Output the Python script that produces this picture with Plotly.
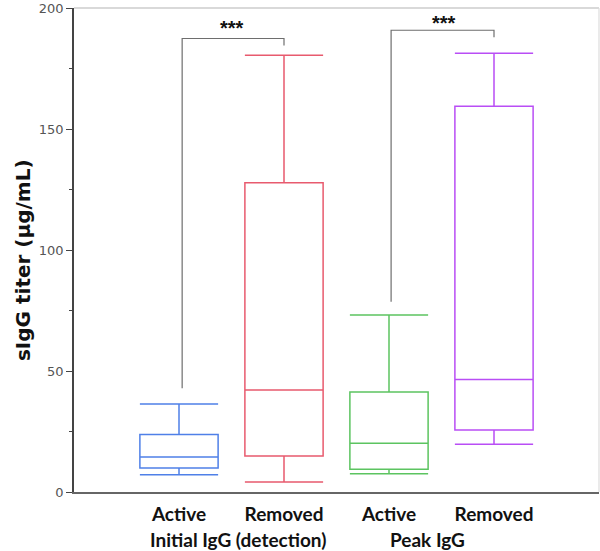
import plotly.graph_objects as go

# ---- data ----
groups = ["Active", "Removed", "Active", "Removed"]
positions = [0, 1, 2, 3]
lower_whisker = [7.1, 4.1, 7.5, 19.7]
q1 = [9.9, 14.9, 9.4, 25.6]
median = [14.5, 42.2, 20.1, 46.5]
q3 = [23.8, 127.8, 41.3, 159.4]
upper_whisker = [36.4, 180.5, 73.1, 181.3]
colors = ["#4f80e8", "#e85a6e", "#5cc460", "#b94ef5"]

group_labels = ["Initial IgG (detection)", "Peak IgG"]
group_label_x = [0.56, 2.37]

# significance brackets: (left x, right x, left bottom y, top y, right bottom y)
brackets = [
    (0.03, 1.0, 42.9, 187.4, 184.5),
    (2.02, 3.0, 78.6, 190.8, 187.9),
]
star_x = [0.5, 2.52]
star_y = [191.8, 193.6]

fig = go.Figure()

for i in range(len(groups)):
    fig.add_trace(go.Box(
        x=[positions[i]],
        q1=[q1[i]], median=[median[i]], q3=[q3[i]],
        lowerfence=[lower_whisker[i]], upperfence=[upper_whisker[i]],
        width=0.745, whiskerwidth=1,
        line=dict(color=colors[i], width=1.5),
        fillcolor="rgba(0,0,0,0)",
        boxpoints=False, showlegend=False, hoverinfo="skip",
    ))

for (lx, rx, ly, ty, ry), sx, sy in zip(brackets, star_x, star_y):
    fig.add_trace(go.Scatter(
        x=[lx, lx, rx, rx], y=[ly, ty, ty, ry], mode="lines",
        line=dict(color="#6e6e6e", width=1.2), showlegend=False, hoverinfo="skip",
    ))
    fig.add_annotation(x=sx, y=sy, text="<b>***</b>", showarrow=False,
                       font=dict(family="Liberation Sans", size=20, color="#111111"),
                       xref="x", yref="y")

for lab, gx in zip(group_labels, group_label_x):
    fig.add_annotation(x=gx, y=-0.098, xref="x", yref="paper", text="<b>%s</b>" % lab,
                       showarrow=False, yanchor="middle",
                       font=dict(family="Lato", size=19, color="#111111"))

fig.add_annotation(x=-0.125, y=0.48, xref="paper", yref="paper",
                   text="<b>sIgG titer (μg/mL)</b>", textangle=-90, showarrow=False,
                   font=dict(family="DejaVu Sans", size=20, color="#111111"))

# frame: top and right light borders
fig.add_shape(type="line", xref="paper", yref="paper", x0=0, x1=1, y0=1, y1=1,
              line=dict(color="#cccccc", width=1.5))
fig.add_shape(type="line", xref="paper", yref="paper", x0=1, x1=1, y0=0, y1=1,
              line=dict(color="#dddddd", width=1.2))

fig.update_layout(
    width=600, height=551,
    margin=dict(l=74, r=1, t=5, b=59),
    paper_bgcolor="white", plot_bgcolor="white",
    xaxis=dict(range=[-1, 4], tickmode="array", tickvals=positions,
               ticktext=["<b>%s</b>" % g for g in groups],
               tickfont=dict(family="Lato", size=19, color="#111111"),
               showgrid=False, zeroline=False, showline=True,
               linecolor="#666666", linewidth=1.5, ticks="", ticklen=0,
               ticklabelstandoff=4),
    yaxis=dict(range=[0, 200], tickmode="array", tickvals=[0, 50, 100, 150, 200],
               tickfont=dict(family="DejaVu Sans", size=13, color="#555555"),
               ticklabeloverflow="allow",
               showgrid=False, zeroline=False, showline=True,
               linecolor="#444444", linewidth=1.5, ticks="outside", ticklen=6,
               tickcolor="#444444", tickwidth=1.2,
               minor=dict(tickvals=[25, 75, 125, 175], ticks="outside", ticklen=3,
                          tickcolor="#444444", tickwidth=1)),
)

fig.write_html("out.html", config={"displayModeBar": False},
               post_script="document.body.style.margin='0';document.body.style.overflow='hidden';")
